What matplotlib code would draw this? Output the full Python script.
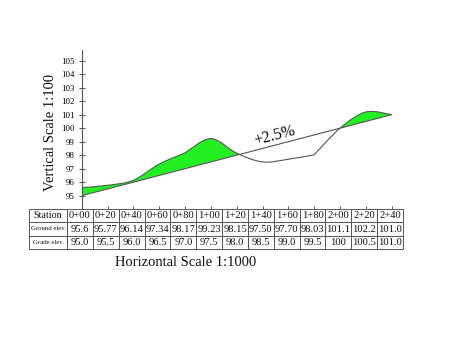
import matplotlib
matplotlib.use("Agg")
import matplotlib.pyplot as plt
from matplotlib.path import Path
from matplotlib.patches import PathPatch, Polygon

# ---- data ----
stations = [0, 20, 40, 60, 80, 100, 120, 140, 160, 180, 200, 220, 240]
station_labels = ["0+00", "0+20", "0+40", "0+60", "0+80", "1+00", "1+20",
                  "1+40", "1+60", "1+80", "2+00", "2+20", "2+40"]
ground_labels = ["95.6", "95.77", "96.14", "97.34", "98.17", "99.23", "98.15",
                 "97.50", "97.70", "98.03", "101.1", "102.2", "101.0"]
grade_labels = ["95.0", "95.5", "96.0", "96.5", "97.0", "97.5", "98.0",
                "98.5", "99.0", "99.5", "100", "100.5", "101.0"]
# ground profile as drawn in the chart
ground_plot = [95.6, 95.77, 96.14, 97.34, 98.17, 99.23, 98.15,
               97.50, 97.70, 98.03, 100.0, 101.2, 101.0]
grade = [95.0, 95.5, 96.0, 96.5, 97.0, 97.5, 98.0,
         98.5, 99.0, 99.5, 100.0, 100.5, 101.0]
yticks = [95, 96, 97, 98, 99, 100, 101, 102, 103, 104, 105]
grade_text = "+2.5%"

# drawing style: points where the ground line has a sharp corner
corner_idx = [4, 9]

W, H = 474, 355
fig = plt.figure(figsize=(W / 100, H / 100), dpi=100)
plt.rcParams['font.family'] = ['Liberation Serif', 'DejaVu Serif']

ax_l, ax_r, ax_t, ax_b = 81.7, 391.7, 50, 209
ax = fig.add_axes([ax_l / W, 1 - ax_b / H, (ax_r - ax_l) / W, (ax_b - ax_t) / H])
ax.set_xlim(0, 240)
ax.set_ylim(94.015, 105.79)

for s in ['top', 'right', 'bottom']:
    ax.spines[s].set_visible(False)
ax.spines['left'].set_color('#555555')
ax.spines['left'].set_linewidth(0.8)
ax.set_yticks(yticks)
ax.set_yticklabels([str(v) for v in yticks], fontsize=6.4)
ax.tick_params(axis='y', direction='inout', length=4.3, width=0.7, color='#555555', pad=3)
ax.set_xticks(stations)
ax.set_xticklabels([])
ax.tick_params(axis='x', direction='in', length=2.5, width=0.7, color='#555555')

# smooth ground curve (Catmull-Rom -> cubic Bezier), with corners
pts = list(zip(stations, ground_plot))
n = len(pts)


def tangent(i):
    if i in corner_idx:
        return None
    a = pts[max(i - 1, 0)]
    b = pts[min(i + 1, n - 1)]
    return ((b[0] - a[0]) / 6, (b[1] - a[1]) / 6)


verts = [pts[0]]
codes = [Path.MOVETO]
for i in range(n - 1):
    p1, p2 = pts[i], pts[i + 1]
    t1, t2 = tangent(i), tangent(i + 1)
    seg = ((p2[0] - p1[0]) / 3, (p2[1] - p1[1]) / 3)
    if t1 is None:
        t1 = seg if t2 is None else (seg[0] * 0.5, seg[1] * 0.5)
    if t2 is None:
        t2 = seg if tangent(i) is None else (seg[0] * 0.5, seg[1] * 0.5)
    c1 = (p1[0] + t1[0], p1[1] + t1[1])
    c2 = (p2[0] - t2[0], p2[1] - t2[1])
    verts += [c1, c2, p2]
    codes += [Path.CURVE4] * 3

# fill region between ground and grade, clipped to area above grade
fill_verts = verts + [(stations[-1], grade[-1])] + \
    [(x, y) for x, y in zip(stations[::-1], grade[::-1])] + [(0, 0)]
fill_codes = codes + [Path.LINETO] + [Path.LINETO] * len(stations) + [Path.CLOSEPOLY]
fill_patch = PathPatch(Path(fill_verts, fill_codes), facecolor='#22f022',
                       edgecolor='none', zorder=2)
ax.add_patch(fill_patch)
clip_poly = Polygon([(stations[0], grade[0]), (stations[-1], grade[-1]),
                     (stations[-1], 200), (stations[0], 200)],
                    closed=True, transform=ax.transData, facecolor='none', edgecolor='none')
fill_patch.set_clip_path(clip_poly)

ground_patch = PathPatch(Path(verts, codes), facecolor='none',
                         edgecolor='#555555', linewidth=0.8, zorder=3)
ax.add_patch(ground_patch)
ax.plot(stations, grade, color='#555555', linewidth=0.8, zorder=3,
        solid_capstyle='butt')

ax.text(149.6, 99.45, grade_text, fontsize=11.5, ha='center', va='center',
        rotation=1.432, transform_rotates_text=True, rotation_mode='anchor',
        color='#000000')

# ---- table ----
tab_l, tab_r, tab_t, tab_b = 29, 403, 209, 249
x0 = (tab_l - ax_l) / (ax_r - ax_l)
wtot = (tab_r - tab_l) / (ax_r - ax_l)
y0 = -(tab_b - tab_t) / (ax_b - ax_t)
h = (tab_b - tab_t) / (ax_b - ax_t)
cell_text = [["Station"] + station_labels,
             ["Ground elev."] + ground_labels,
             ["Grade elev."] + grade_labels]
col_w = [38] + [25.83] * len(stations)
tbl = ax.table(cellText=cell_text, colWidths=[c / sum(col_w) for c in col_w],
               bbox=[x0, y0, wtot, h], cellLoc='center')
tbl.auto_set_font_size(False)
for (r, c), cell in tbl.get_celld().items():
    cell.set_edgecolor('#555555')
    cell.set_linewidth(0.7)
    cell.PAD = 0.02
    t = cell.get_text()
    t.set_fontfamily(['Liberation Serif', 'DejaVu Serif'])
    if c == 0:
        t.set_fontsize(7.2 if r == 0 else 4.9)
    else:
        t.set_fontsize(7.6)
    t.set_color('#111111')

fig.text(186 / W, 1 - 263 / H, "Horizontal Scale 1:1000", fontsize=10.5,
         ha='center', va='center', color='#111111')
fig.text(50 / W, 1 - 132 / H, "Vertical Scale 1:100", fontsize=10.5,
         ha='center', va='center', rotation=90, color='#111111')

fig.savefig("out.png", dpi=100)
